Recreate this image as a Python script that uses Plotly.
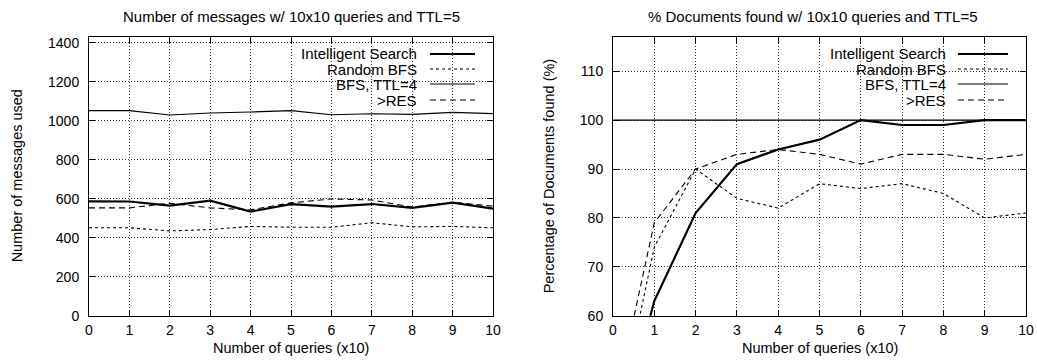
import plotly.graph_objects as go

W, H = 1037, 363

queries = [0, 1, 2, 3, 4, 5, 6, 7, 8, 9, 10]
series_names = ["Intelligent Search", "Random BFS", "BFS, TTL=4", ">RES"]

# Left chart: number of messages
msg_intelligent = [587, 586, 565, 590, 534, 572, 560, 573, 553, 580, 549]
msg_random_bfs = [451, 451, 435, 442, 458, 454, 454, 477, 456, 458, 451]
msg_bfs_ttl4 = [1052, 1052, 1030, 1040, 1045, 1052, 1031, 1036, 1033, 1043, 1037]
msg_res = [553, 553, 577, 553, 543, 579, 599, 594, 557, 582, 562]

# Right chart: % documents found
doc_intelligent = [31, 63, 81, 91, 94, 96, 100, 99, 99, 100, 100]
doc_random_bfs = [34, 74, 90, 84, 82, 87, 86, 87, 85, 80, 81]
doc_bfs_ttl4 = [100, 100, 100, 100, 100, 100, 100, 100, 100, 100, 100]
doc_res = [40, 79, 90, 93, 94, 93, 91, 93, 93, 92, 93]

left_yticks = [0, 200, 400, 600, 800, 1000, 1200, 1400]
right_yticks = [60, 70, 80, 90, 100, 110]
xticks = queries

FONT = "Liberation Sans, Arial, Helvetica, sans-serif"
FS = 15
TFS = 14
styles = [
    dict(color="black", width=2.2, dash="solid"),
    dict(color="black", width=1.1, dash="3px,3px"),
    dict(color="black", width=1.1, dash="solid"),
    dict(color="black", width=1.1, dash="6px,4px"),
]


def px(x):
    return x / W


def py(y):
    return 1 - y / H


fig = go.Figure()

left_data = [msg_intelligent, msg_random_bfs, msg_bfs_ttl4, msg_res]
right_data = [doc_intelligent, doc_random_bfs, doc_bfs_ttl4, doc_res]

for name, ys, st in zip(series_names, left_data, styles):
    fig.add_trace(go.Scatter(x=queries, y=ys, mode="lines", name=name, line=st,
                             showlegend=False, hoverinfo="skip", xaxis="x", yaxis="y"))
for name, ys, st in zip(series_names, right_data, styles):
    fig.add_trace(go.Scatter(x=queries, y=ys, mode="lines", name=name, line=st,
                             showlegend=False, hoverinfo="skip", xaxis="x2", yaxis="y2"))

plot_top, plot_bot = 37, 315.7
ydom = [py(plot_bot), py(plot_top)]
axis_common = dict(
    showline=True, linecolor="black", linewidth=1, mirror="ticks",
    ticks="inside", ticklen=6, tickcolor="black", tickwidth=1,
    showgrid=True, gridcolor="rgba(0,0,0,0.8)", gridwidth=1, griddash="1px,2px",
    zeroline=False, automargin=False,
    tickfont=dict(family=FONT, size=TFS, color="black"),
)
xaxis_common = dict(axis_common, ticklabelstandoff=1)
yaxis_common = dict(axis_common, ticklabelstandoff=6)

fig.update_layout(
    width=W, height=H,
    margin=dict(l=0, r=0, t=0, b=0),
    paper_bgcolor="white", plot_bgcolor="white",
    showlegend=False,
    xaxis=dict(domain=[px(89), px(493)], range=[0, 10], tickvals=xticks, anchor="y", **xaxis_common),
    yaxis=dict(domain=ydom, range=[0, 1430], tickvals=left_yticks, anchor="x", **yaxis_common),
    xaxis2=dict(domain=[px(613), px(1026)], range=[0, 10], tickvals=xticks, anchor="y2", **xaxis_common),
    yaxis2=dict(domain=ydom, range=[60, 117], tickvals=right_yticks, anchor="x2", **yaxis_common),
)

annotations = []
shapes = []

panels = [
    dict(cx=(89 + 493) / 2, tcx=291, title="Number of messages w/ 10x10 queries and TTL=5",
         ytitle="Number of messages used", ycx=17),
    dict(cx=(613 + 1026) / 2, tcx=813, title="% Documents found w/ 10x10 queries and TTL=5",
         ytitle="Percentage of Documents found (%)", ycx=549),
]
for p in panels:
    annotations.append(dict(text=p["title"], x=px(p["tcx"]), y=py(16), xref="paper", yref="paper",
                            xanchor="center", yanchor="middle", showarrow=False,
                            font=dict(family=FONT, size=FS, color="black")))
    annotations.append(dict(text="Number of queries (x10)", x=px(p["cx"]),
                            y=py(348), xref="paper", yref="paper",
                            xanchor="center", yanchor="middle", showarrow=False,
                            font=dict(family=FONT, size=14.5, color="black")))
    annotations.append(dict(text=p["ytitle"], x=px(p["ycx"]), y=py((plot_top + plot_bot) / 2),
                            xref="paper", yref="paper", textangle=-90,
                            xanchor="center", yanchor="middle", showarrow=False,
                            font=dict(family=FONT, size=14.5, color="black")))

# Key (gnuplot-style: right-aligned text, sample on the right)
row_y = [54, 69, 84, 100]
for (text_end, s0, s1, box_left, box_right) in [(419, 430, 475, 253, 492), (948, 958, 1008, 777, 1025)]:
    shapes.append(dict(type="rect", xref="paper", yref="paper", layer="between",
                       x0=px(box_left), x1=px(box_right), y0=py(108), y1=py(45),
                       fillcolor="white", line=dict(width=0)))
    for name, st, ry in zip(series_names, styles, row_y):
        annotations.append(dict(text=name, x=px(text_end), y=py(ry), xref="paper", yref="paper",
                                xanchor="right", yanchor="middle", showarrow=False,
                                font=dict(family=FONT, size=FS, color="black")))
        shapes.append(dict(type="line", xref="paper", yref="paper", layer="above",
                           x0=px(s0), x1=px(s1), y0=py(ry), y1=py(ry), line=st))

fig.update_layout(annotations=annotations, shapes=shapes)

fig.write_html("out.html", config={"displayModeBar": False},
               post_script="document.body.style.margin='0';document.body.style.overflow='hidden';")
